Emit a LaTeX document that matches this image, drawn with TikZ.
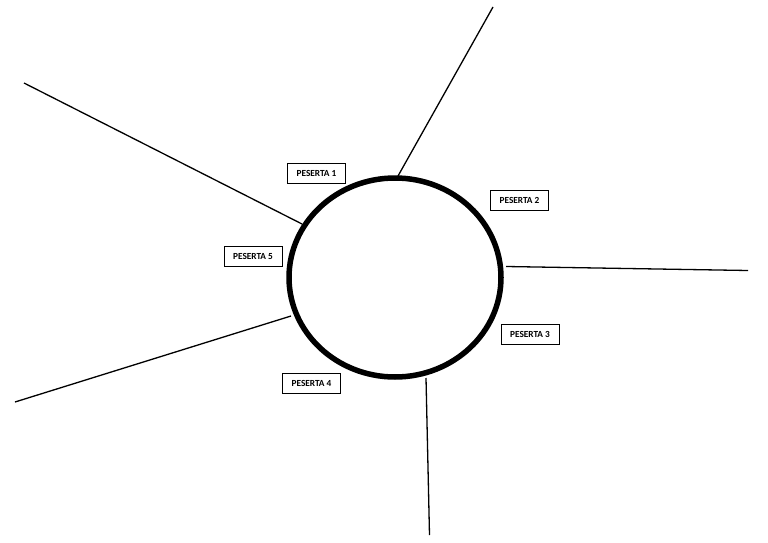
\documentclass[tikz,border=0pt]{standalone}
\usepackage{fontspec}
\setmainfont{Carlito}
\begin{document}
\begin{tikzpicture}[x=1pt,y=-1pt,
  label box/.style={draw=black,line width=0.9pt,fill=white,minimum width=58pt,minimum height=20pt,inner sep=0pt,font=\fontsize{9.3}{10}\selectfont\bfseries},
  spoke/.style={draw=black,line width=1.3pt}]
\useasboundingbox (0,0) rectangle (768,543);
\fill[white] (0,0) rectangle (768,543);
% spoke coordinates
\coordinate (s1) at (398,176);
\coordinate (e1) at (493,7);
\coordinate (s2) at (506,266.5);
\coordinate (e2) at (748,270.5);
\coordinate (s3) at (426,378);
\coordinate (e3) at (429.5,535);
\coordinate (s4) at (291,316);
\coordinate (e4) at (15,402);
\coordinate (s5) at (302,224);
\coordinate (e5) at (24,83);
\draw[spoke] (s1) -- (e1);
\draw[spoke] (s2) -- (e2);
\draw[spoke] (s3) -- (e3);
\draw[spoke] (s4) -- (e4);
\draw[spoke] (s5) -- (e5);
% circle
\draw[line width=5.5pt] (395,277.5) ellipse [x radius=106, y radius=99.5];
% labels
\node[label box] (p1) at (316.5,173) {PESERTA 1};
\node[label box] (p2) at (519.5,200) {PESERTA 2};
\node[label box] (p3) at (530,334.5) {PESERTA 3};
\node[label box] (p4) at (311.5,383.5) {PESERTA 4};
\node[label box] (p5) at (253,256.5) {PESERTA 5};
\end{tikzpicture}
\end{document}
